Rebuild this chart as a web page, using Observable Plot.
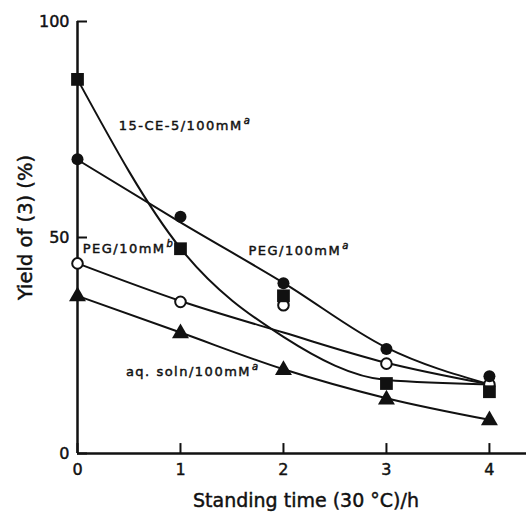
<!DOCTYPE html>
<html><head><meta charset="utf-8">
<script src="https://cdn.jsdelivr.net/npm/d3@7"></script>
<script src="https://cdn.jsdelivr.net/npm/@observablehq/plot@0.6"></script>
<style>body{margin:0;background:#fff}</style>
</head><body><div id="chart"></div>
<script>
// ---- data ----
const hours = [0, 1, 2, 3, 4];
const xTicks = [0, 1, 2, 3, 4];
const yTicks = [0, 50, 100];

const ce5Points    = [86.6, 47.4, 36.5, 16.2, 14.3];
const ce5Curve     = [86.6, 47.5, 27.0, 17.0, 16.0];
const peg100Points = [68.1, 54.8, 39.4, 24.2, 17.9];
const peg100Curve  = [68.0, 53.5, 39.5, 24.5, 16.0];
const peg10Points  = [44.0, 35.1, 34.3, 20.8, 16.0];
const peg10Curve   = [44.0, 35.3, 28.0, 21.0, 16.0];
const aqPoints     = [36.4, 27.8, 19.3, 12.5, 7.7];
const aqCurve      = [36.5, 28.0, 19.5, 12.8, 7.8];

const seriesLabels = ["15-CE-5/100mM", "PEG/100mM", "PEG/10mM", "aq. soln/100mM"];
const seriesNotes  = ["a", "a", "b", "a"];
const labelHour  = [0.40, 1.66, 0.05, 0.47];
const labelYield = [75.9, 46.9, 47.4, 18.9];

const xTitle = "Standing time (30 °C)/h";
const yTitle = "Yield of (3) (%)";

// ---- build tables ----
const pts = (v) => hours.map((h, i) => ({h, y: v[i]}));
const labels = seriesLabels.map((t, i) => ({t, note: seriesNotes[i], h: labelHour[i], y: labelYield[i]}));

const ink = "#111";
const font = "DejaVu Sans, sans-serif";
// inward tick length, in data units (about 10 px on each axis)
const xTickLen = 2.3;
const yTickLen = 0.097;

const chart = Plot.plot({
  width: 528,
  height: 516,
  marginLeft: 77,
  marginRight: 2,
  marginTop: 21,
  marginBottom: 63,
  style: {fontFamily: font, color: ink, background: "white"},
  x: {domain: [0, 4.36]},
  y: {domain: [0, 100]},
  marks: [
    Plot.ruleX([0], {stroke: ink, strokeWidth: 2.5}),
    Plot.ruleY([0], {stroke: ink, strokeWidth: 2.5}),
    Plot.ruleX(xTicks, {x: d => d, y1: 0, y2: xTickLen, stroke: ink, strokeWidth: 2}),
    Plot.ruleY(yTicks, {y: d => d, x1: 0, x2: yTickLen, stroke: ink, strokeWidth: 2}),
    Plot.axisY(yTicks, {tickSize: 0, tickPadding: 8, fontSize: 16, label: null, fill: ink}),
    Plot.axisX(xTicks, {tickSize: 0, tickPadding: 10, fontSize: 16, label: null, fill: ink}),
    Plot.line(pts(ce5Curve),    {x: "h", y: "y", curve: "monotone-x", stroke: ink, strokeWidth: 2}),
    Plot.line(pts(peg100Curve), {x: "h", y: "y", curve: "monotone-x", stroke: ink, strokeWidth: 2}),
    Plot.line(pts(peg10Curve),  {x: "h", y: "y", curve: "monotone-x", stroke: ink, strokeWidth: 2}),
    Plot.line(pts(aqCurve),     {x: "h", y: "y", curve: "monotone-x", stroke: ink, strokeWidth: 2}),
    Plot.dot(pts(peg10Points),  {x: "h", y: "y", r: 5.3, fill: "white", stroke: ink, strokeWidth: 2}),
    Plot.dot(pts(ce5Points),    {x: "h", y: "y", symbol: "square", r: 7.2, fill: ink}),
    Plot.dot(pts(peg100Points), {x: "h", y: "y", symbol: "circle", r: 6, fill: ink}),
    Plot.dot(pts(aqPoints),     {x: "h", y: "y", symbol: "triangle", r: 6.3, fill: ink}),
    Plot.text(labels, {x: "h", y: "y", text: "t", textAnchor: "start", fontSize: 13, fill: ink, className: "series-label"}),
    Plot.text([xTitle], {frameAnchor: "bottom", dy: 53, dx: 4, fontSize: 19, fill: ink}),
    Plot.text([yTitle], {frameAnchor: "left", textAnchor: "middle", dx: -52, dy: -10, rotate: -90, fontSize: 19.5, fill: ink})
  ]
});

// superscript notes on series labels
chart.querySelectorAll(".series-label text").forEach((t, i) => {
  t.style.letterSpacing = "1.5px";
  const s = document.createElementNS("http://www.w3.org/2000/svg", "tspan");
  s.textContent = labels[i].note;
  s.setAttribute("font-style", "italic");
  s.setAttribute("font-size", "10");
  s.setAttribute("dy", "-6");
  s.setAttribute("dx", "1");
  t.append(s);
});
// slightly heavier type, as in the printed figure
chart.querySelectorAll("text").forEach(t => {
  t.setAttribute("stroke", ink);
  t.setAttribute("stroke-width", "0.45");
});
document.getElementById("chart").append(chart);
</script>
</body></html>
